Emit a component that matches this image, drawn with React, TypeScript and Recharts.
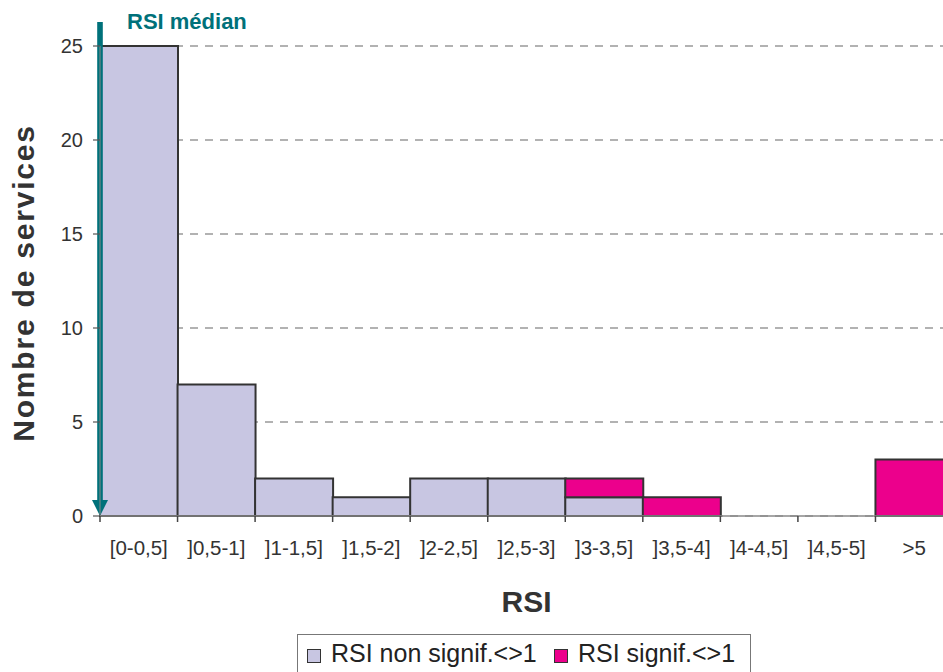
import React from 'react';
import { BarChart, Bar, XAxis, YAxis, CartesianGrid, ReferenceLine, Label } from 'recharts';

const categories = ['[0-0,5]', ']0,5-1]', ']1-1,5]', ']1,5-2]', ']2-2,5]', ']2,5-3]', ']3-3,5]', ']3,5-4]', ']4-4,5]', ']4,5-5]', '>5'];
const nonSignif = [25, 7, 2, 1, 2, 2, 1, 0, 0, 0, 0];
const signif = [0, 0, 0, 0, 0, 0, 1, 1, 0, 0, 3];
const yTicks = [0, 5, 10, 15, 20, 25];

const seriesNames = ['RSI non signif.<>1', 'RSI signif.<>1'];
const colors = ['#c8c6e2', '#ec008c'];
const TEAL = '#00717a';
const FONT = '"Liberation Sans", Arial, Helvetica, sans-serif';

const data = categories.map((c, i) => ({ cat: c, ns: nonSignif[i], s: signif[i] }));

const XTick = (props: any) => {
  const { x, y, payload, index, visibleTicksCount } = props;
  const half = payload && typeof payload.offset === 'number' && payload.offset > 0 ? payload.offset : 853 / 22;
  const last = index === (visibleTicksCount ?? categories.length) - 1;
  return (
    <g>
      <line x1={x - half} x2={x - half} y1={y} y2={y + 6} stroke="#444" strokeWidth={1.5} />
      {last && <line x1={x + half} x2={x + half} y1={y} y2={y + 6} stroke="#444" strokeWidth={1.5} />}
      <text x={x} y={y + 39} textAnchor="middle" fontSize={20.5} fontFamily={FONT} fill="#333">
        {payload.value}
      </text>
    </g>
  );
};

const ArrowShape = (p: any) => {
  const x = p.x1;
  const top = Math.min(p.y1, p.y2);
  const bottom = Math.max(p.y1, p.y2);
  return (
    <g>
      <rect x={x - 2.8} y={top - 24} width={5.6} height={bottom - top + 24 - 15} fill={TEAL} />
      <polygon points={`${x - 8},${bottom - 16} ${x + 8},${bottom - 16} ${x},${bottom}`} fill={TEAL} />
      <text x={x + 27} y={top - 17} fontSize={22} fontWeight="bold" fontFamily={FONT} fill={TEAL}>
        RSI médian
      </text>
    </g>
  );
};

const XTitle = (props: any) => {
  const vb = props.viewBox || { x: 100, y: 516, width: 853 };
  return (
    <text x={vb.x + vb.width / 2} y={vb.y + 96} textAnchor="middle" fontSize={30} fontWeight="bold" fontFamily={FONT} fill="#333">
      RSI
    </text>
  );
};

const YTitle = (props: any) => {
  const vb = props.viewBox || { x: 0, y: 46, width: 100, height: 470 };
  const cy = vb.y + vb.height / 2 + 2;
  return (
    <text x={34} y={cy} transform={`rotate(-90, 34, ${cy})`} textAnchor="middle" fontSize={30} fontWeight="bold" fontFamily={FONT} fill="#333" letterSpacing={1.8}>
      Nombre de services
    </text>
  );
};

export default function App() {
  return (
    <div style={{ position: 'absolute', left: 0, top: 0, width: 943, height: 672, background: '#fff', overflow: 'hidden', fontFamily: FONT }}>
      <BarChart width={953} height={672} data={data} margin={{ top: 46, right: 0, left: 0, bottom: 0 }} barCategoryGap={0} barGap={0}>
        <CartesianGrid vertical={false} stroke="#666" strokeDasharray="8 7" strokeWidth={1.2} />
        <XAxis
          dataKey="cat"
          height={156}
          interval={0}
          tickLine={false}
          tickSize={0}
          tickMargin={0}
          axisLine={{ stroke: '#888', strokeWidth: 1.5 }}
          tick={<XTick />}
          label={<Label content={<XTitle />} />}
        />
        <YAxis
          width={100}
          domain={[0, 25]}
          ticks={yTicks}
          interval={0}
          tickSize={7}
          tickMargin={10}
          tickLine={{ stroke: '#555', strokeWidth: 1.2 }}
          axisLine={{ stroke: '#888' }}
          tick={{ fontSize: 20, fill: '#333', fontFamily: FONT }}
          label={<Label content={<YTitle />} />}
        />
        <Bar dataKey="ns" name={seriesNames[0]} stackId="a" fill={colors[0]} stroke="#333" strokeWidth={2} isAnimationActive={false} />
        <Bar dataKey="s" name={seriesNames[1]} stackId="a" fill={colors[1]} stroke="#333" strokeWidth={2} isAnimationActive={false} />
        <ReferenceLine x={categories[0]} position="start" shape={ArrowShape} />
      </BarChart>
      <div
        style={{
          position: 'absolute',
          left: 297,
          top: 634,
          width: 454,
          height: 46,
          boxSizing: 'border-box',
          border: '1.5px solid #777',
          background: '#fff',
          fontSize: 25,
          color: '#222',
          fontFamily: FONT,
        }}
      >
        {seriesNames.map((n, i) => (
          <div key={n} style={{ position: 'absolute', left: i === 0 ? 9 : 256, top: 3, display: 'flex', alignItems: 'center', whiteSpace: 'nowrap', lineHeight: '30px' }}>
            <span style={{ display: 'inline-block', width: 14, height: 14, boxSizing: 'border-box', border: '1.5px solid #333', background: colors[i], marginRight: 10, marginTop: 6 }} />
            <span>{n}</span>
          </div>
        ))}
      </div>
    </div>
  );
}
